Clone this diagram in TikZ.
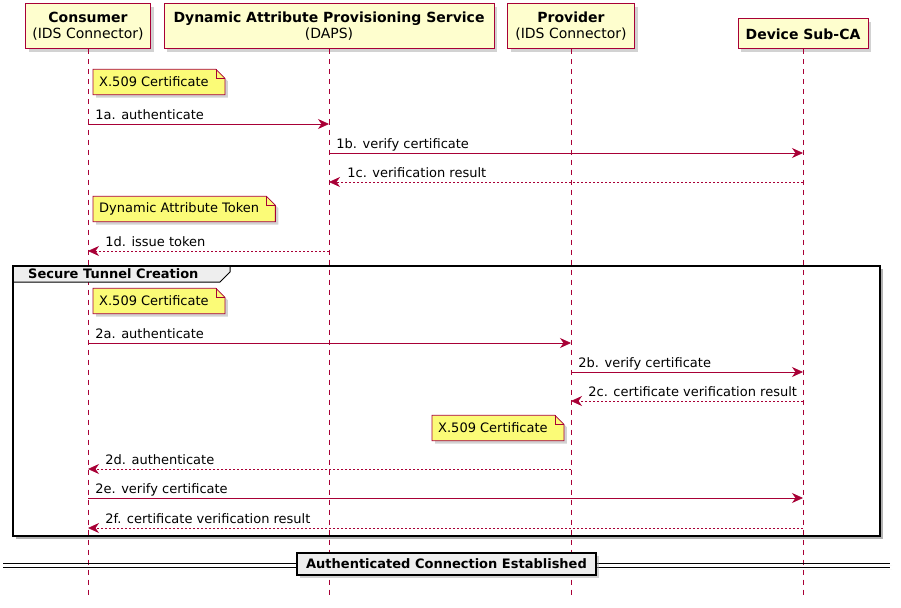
\documentclass[tikz,border=0pt]{standalone}
\usepackage{fontspec}
\setmainfont{DejaVu Sans}
\usetikzlibrary{arrows.meta,positioning,shadows,backgrounds}

\definecolor{umlred}{HTML}{A80036}
\definecolor{partfill}{HTML}{FEFECE}
\definecolor{notefill}{HTML}{FBFB77}
\definecolor{grpfill}{HTML}{EEEEEE}

% note with a folded corner, drawn behind its text
\newcommand{\foldnote}[3]{%
  \node[notetext, #2] (#1) {#3};
  \begin{scope}[on background layer]
    \draw[notebox] (#1.south west) -- (#1.north west) -- ([xshift=1pt]#1.north east)
      -- ([xshift=10pt,yshift=-9pt]#1.north east) -- ([xshift=10pt]#1.south east) -- cycle;
    \draw[umlred,line width=0.8pt] ([xshift=1pt]#1.north east) |- ([xshift=10pt,yshift=-9pt]#1.north east);
  \end{scope}
}

\begin{document}
\begin{tikzpicture}[
  x=1pt, y=-1pt,
  font=\fontsize{13}{16}\selectfont,
  part/.style={rectangle,draw=umlred,fill=partfill,align=center,inner sep=2pt,
    minimum height=45pt,line width=1pt,font=\fontsize{14}{16}\selectfont,
    drop shadow={shadow xshift=3pt,shadow yshift=-3pt,fill=black!35}},
  life/.style={umlred,dash pattern=on 5pt off 5pt,line width=0.7pt},
  notetext/.style={inner xsep=6pt,inner ysep=0pt,minimum height=25pt,anchor=west},
  notebox/.style={draw=umlred,fill=notefill,line width=0.8pt,
    drop shadow={shadow xshift=3pt,shadow yshift=-3pt,fill=black!35}},
  msg/.style={umlred,line width=0.8pt,-{Stealth[length=11pt,width=10pt,inset=3.5pt]}},
  reply/.style={msg,dash pattern=on 2pt off 2pt},
  lbl/.style={inner sep=0pt,anchor=base west,yshift=5pt,text=black}
]
\useasboundingbox (0,0) rectangle (901,607);

% participants
\node[part, minimum width=125pt] (cons) at (88,26.5) {\textbf{Consumer}\\(IDS Connector)};
\node[part, minimum width=330pt] (daps) at (329,26.5) {\textbf{Dynamic Attribute Provisioning Service}\\(DAPS)};
\node[part, minimum width=127pt] (prov) at (571,26.5) {\textbf{Provider}\\(IDS Connector)};
\node[part, minimum width=130pt, minimum height=30pt] (subca) at (803,34) {\textbf{Device Sub-CA}};

% group background, under the lifelines
\begin{scope}[on background layer]
  \fill[black!30] (16,269) rectangle (883,539);
  \fill[white] (13,266) rectangle (880,536);
\end{scope}

% lifelines
\coordinate (bottom) at (0,596);
\draw[life] (cons.south) -- (cons |- bottom);
\draw[life] (daps.south) -- (daps |- bottom);
\draw[life] (prov.south) -- (prov |- bottom);
\draw[life] (subca.south) -- (subca |- bottom);

% message rows
\coordinate (m1a) at (0,124);
\coordinate (m1b) at (0,153);
\coordinate (m1c) at (0,182);
\coordinate (m1d) at (0,251);
\coordinate (m2a) at (0,343);
\coordinate (m2b) at (0,372);
\coordinate (m2c) at (0,401);
\coordinate (m2d) at (0,469);
\coordinate (m2e) at (0,498);
\coordinate (m2f) at (0,528);

\foldnote{n1}{at={(93,82)}}{X.509 Certificate}
\draw[msg] (cons |- m1a) -- node[lbl, pos=0, xshift=7pt] (l1a) {1a. authenticate} (daps |- m1a);
\draw[msg] (daps |- m1b) -- node[lbl, pos=0, xshift=7pt] (l1b) {1b. verify certificate} (subca |- m1b);
\draw[reply] (subca |- m1c) -- node[lbl, pos=1, xshift=18pt] (l1c) {1c. verification result} (daps |- m1c);
\foldnote{n2}{at={(93,209)}}{Dynamic Attribute Token}
\draw[reply] (daps |- m1d) -- node[lbl, pos=1, xshift=17pt] (l1d) {1d. issue token} (cons |- m1d);

% group
\draw[black,line width=1pt,fill=grpfill] (13,266) -- (230,266) -- (230,272) -- (220,282) -- (13,282) -- cycle;
\draw[black,line width=1.8pt] (13,266) rectangle (880,536);
\node[inner sep=0pt,anchor=base west] (grp) at (28,278) {\textbf{Secure Tunnel Creation}};

\foldnote{n3}{at={(93,301)}}{X.509 Certificate}
\draw[msg] (cons |- m2a) -- node[lbl, pos=0, xshift=7pt] (l2a) {2a. authenticate} (prov |- m2a);
\draw[msg] (prov |- m2b) -- node[lbl, pos=0, xshift=7pt] (l2b) {2b. verify certificate} (subca |- m2b);
\draw[reply] (subca |- m2c) -- node[lbl, pos=1, xshift=17pt] (l2c) {2c. certificate verification result} (prov |- m2c);
\foldnote{n4}{at={(432,428)}}{X.509 Certificate}
\draw[reply] (prov |- m2d) -- node[lbl, pos=1, xshift=17pt] (l2d) {2d. authenticate} (cons |- m2d);
\draw[msg] (cons |- m2e) -- node[lbl, pos=0, xshift=7pt] (l2e) {2e. verify certificate} (subca |- m2e);
\draw[reply] (subca |- m2f) -- node[lbl, pos=1, xshift=17pt] (l2f) {2f. certificate verification result} (cons |- m2f);

% divider
\draw[black,line width=0.9pt,drop shadow={shadow xshift=2pt,shadow yshift=-2pt,fill=black!30}]
  (3,563) -- (890,563) (3,567) -- (890,567);
\node[draw=black,line width=1.5pt,fill=grpfill,minimum width=299pt,minimum height=22pt,inner sep=0pt,
  drop shadow={shadow xshift=3pt,shadow yshift=-3pt,fill=black!35}] (done) at (446.5,564)
  {\bfseries Authenticated Connection Established};
\end{tikzpicture}
\end{document}
